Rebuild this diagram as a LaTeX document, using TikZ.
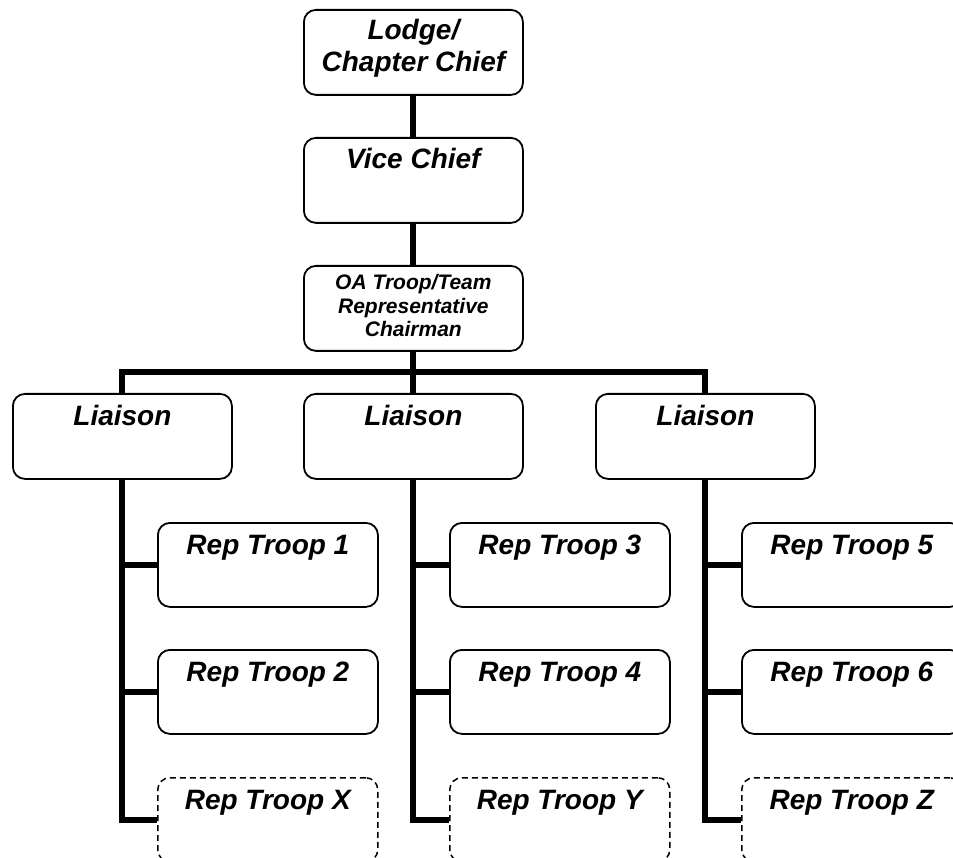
\documentclass[tikz,border=0pt]{standalone}
\usepackage{fontspec}
\setmainfont{Liberation Sans}
\begin{document}
\begin{tikzpicture}[x=1pt,y=-1pt,
  box/.style={draw, line width=1.8pt, rounded corners=12pt, minimum width=219pt, minimum height=85pt, anchor=north west, inner sep=0pt},
  repbox/.style={box, minimum width=220pt, minimum height=84pt},
  dashbox/.style={repbox, line width=1.5pt, dash pattern=on 6pt off 4pt},
  bigfont/.style={anchor=base, inner sep=0pt, font=\fontsize{28pt}{32pt}\selectfont\bfseries\itshape},
  lbl/.style={bigfont, yshift=-32pt},
  toplbl/.style={bigfont, yshift=-31pt},
  smalllbl/.style={anchor=base, yshift=-25pt, inner sep=0pt, font=\fontsize{21pt}{23.5pt}\selectfont\bfseries\itshape},
  conn/.style={line width=6pt, line join=miter}]
\useasboundingbox (0,0) rectangle (953,858);
\fill[white] (0,0) rectangle (953,858);
\clip (0,0) rectangle (953,858);

\node[box] (lodge) at (303,9) {};
\path (lodge.north) node[toplbl] (lodgetxt) {\parbox[t]{210pt}{\centering Lodge/\\Chapter Chief}};
\node[box] (vice) at (303,137) {};
\path (vice.north) node[lbl] (vicetxt) {Vice Chief};
\node[box] (oa) at (303,265) {};
\path (oa.north) node[smalllbl] (oatxt) {\parbox[t]{210pt}{\centering OA Troop/Team\\Representative\\Chairman}};

\node[box] (l1) at (12,393) {};
\path (l1.north) node[lbl] (l1txt) {Liaison};
\node[box] (l2) at (303,393) {};
\path (l2.north) node[lbl] (l2txt) {Liaison};
\node[box] (l3) at (595,393) {};
\path (l3.north) node[lbl] (l3txt) {Liaison};

\node[repbox] (r1) at (157,522) {};
\path (r1.north) node[lbl] (r1txt) {Rep Troop 1};
\node[repbox] (r2) at (157,649) {};
\path (r2.north) node[lbl] (r2txt) {Rep Troop 2};
\node[dashbox] (rx) at (157,777) {};
\path (rx.north) node[lbl] (rxtxt) {Rep Troop X};

\node[repbox] (r3) at (449,522) {};
\path (r3.north) node[lbl] (r3txt) {Rep Troop 3};
\node[repbox] (r4) at (449,649) {};
\path (r4.north) node[lbl] (r4txt) {Rep Troop 4};
\node[dashbox] (ry) at (449,777) {};
\path (ry.north) node[lbl] (rytxt) {Rep Troop Y};

\node[repbox] (r5) at (741,522) {};
\path (r5.north) node[lbl] (r5txt) {Rep Troop 5};
\node[repbox] (r6) at (741,649) {};
\path (r6.north) node[lbl] (r6txt) {Rep Troop 6};
\node[dashbox] (rz) at (741,777) {};
\path (rz.north) node[lbl] (rztxt) {Rep Troop Z};

\coordinate (busy) at (0,372);
\draw[conn] (lodge.south) -- (vice.north);
\draw[conn] (vice.south) -- (oa.north);
\draw[conn] (oa.south) -- (l2.north);
\draw[conn] (l1.north) -- (l1.north |- busy) -- (l3.north |- busy) -- (l3.north);

\draw[conn] (l1.south) |- (rx.west);
\draw[conn] (r1.west) -- (r1.west -| l1.south);
\draw[conn] (r2.west) -- (r2.west -| l1.south);
\draw[conn] (l2.south) |- (ry.west);
\draw[conn] (r3.west) -- (r3.west -| l2.south);
\draw[conn] (r4.west) -- (r4.west -| l2.south);
\draw[conn] (l3.south) |- (rz.west);
\draw[conn] (r5.west) -- (r5.west -| l3.south);
\draw[conn] (r6.west) -- (r6.west -| l3.south);
\end{tikzpicture}
\end{document}
